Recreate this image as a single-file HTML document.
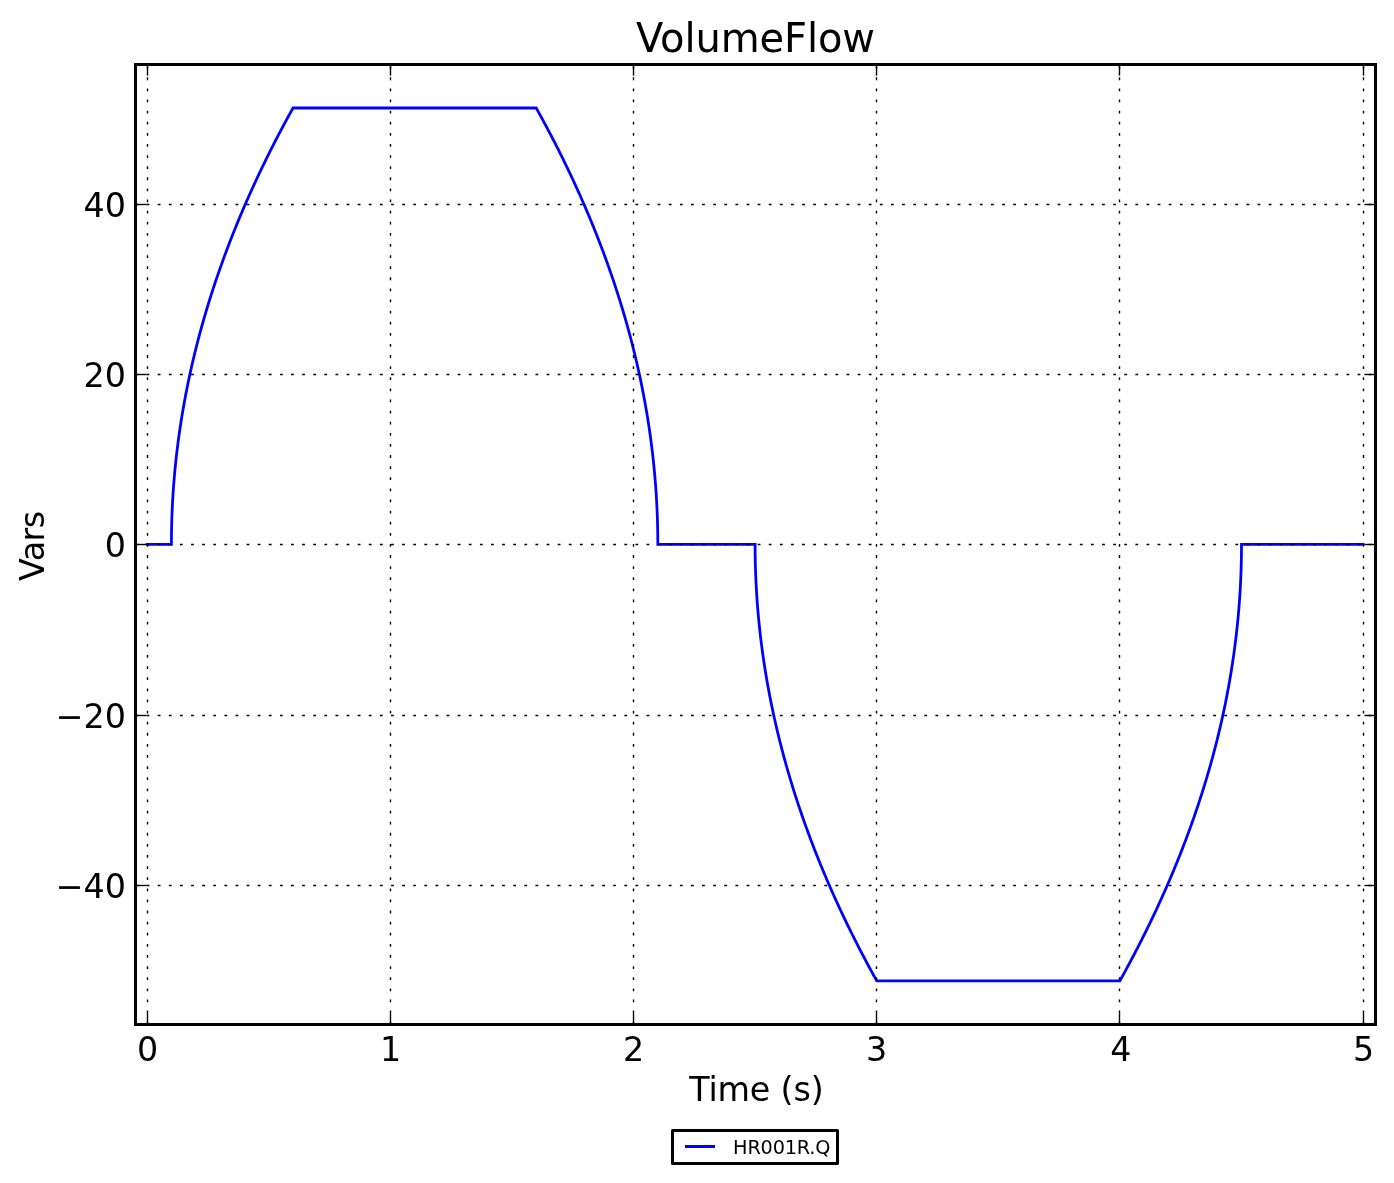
<!DOCTYPE html>
<html><head><meta charset="utf-8"><title>VolumeFlow</title>
<style>html,body{margin:0;padding:0;background:#fff}svg{display:block}</style></head>
<body>
<svg width="1394" height="1183" viewBox="0 0 1394 1183" font-family="'DejaVu Sans', 'Liberation Sans', sans-serif" fill="#000">
<rect x="0" y="0" width="1394" height="1183" fill="#fff"/>
<path d="M147.10,544.40 L171.42,544.40 L171.42,544.40 L171.43,541.49 L171.44,538.58 L171.47,535.67 L171.51,532.76 L171.56,529.85 L171.61,526.94 L171.68,524.03 L171.77,521.13 L171.86,518.22 L171.96,515.31 L172.07,512.40 L172.20,509.49 L172.33,506.58 L172.48,503.67 L172.64,500.76 L172.80,497.85 L172.98,494.94 L173.17,492.03 L173.37,489.12 L173.58,486.21 L173.80,483.30 L174.04,480.40 L174.28,477.49 L174.53,474.58 L174.80,471.67 L175.07,468.76 L175.36,465.85 L175.66,462.94 L175.97,460.03 L176.28,457.12 L176.61,454.21 L176.95,451.30 L177.31,448.39 L177.67,445.48 L178.04,442.57 L178.42,439.67 L178.82,436.76 L179.22,433.85 L179.64,430.94 L180.07,428.03 L180.50,425.12 L180.95,422.21 L181.41,419.30 L181.88,416.39 L182.36,413.48 L182.86,410.57 L183.36,407.66 L183.87,404.75 L184.40,401.84 L184.93,398.94 L185.48,396.03 L186.03,393.12 L186.60,390.21 L187.18,387.30 L187.77,384.39 L188.37,381.48 L188.98,378.57 L189.60,375.66 L190.23,372.75 L190.88,369.84 L191.53,366.93 L192.19,364.02 L192.87,361.11 L193.56,358.21 L194.25,355.30 L194.96,352.39 L195.68,349.48 L196.41,346.57 L197.15,343.66 L197.90,340.75 L198.66,337.84 L199.44,334.93 L200.22,332.02 L201.01,329.11 L201.82,326.20 L202.64,323.29 L203.46,320.38 L204.30,317.48 L205.15,314.57 L206.01,311.66 L206.88,308.75 L207.76,305.84 L208.65,302.93 L209.55,300.02 L210.47,297.11 L211.39,294.20 L212.33,291.29 L213.27,288.38 L214.23,285.47 L215.20,282.56 L216.17,279.65 L217.16,276.75 L218.16,273.84 L219.17,270.93 L220.20,268.02 L221.23,265.11 L222.27,262.20 L223.32,259.29 L224.39,256.38 L225.46,253.47 L226.55,250.56 L227.65,247.65 L228.76,244.74 L229.87,241.83 L231.00,238.92 L232.14,236.02 L233.30,233.11 L234.46,230.20 L235.63,227.29 L236.81,224.38 L238.01,221.47 L239.21,218.56 L240.43,215.65 L241.66,212.74 L242.89,209.83 L244.14,206.92 L245.40,204.01 L246.67,201.10 L247.95,198.19 L249.24,195.28 L250.55,192.38 L251.86,189.47 L253.18,186.56 L254.52,183.65 L255.86,180.74 L257.22,177.83 L258.59,174.92 L259.97,172.01 L261.36,169.10 L262.76,166.19 L264.17,163.28 L265.59,160.37 L267.02,157.46 L268.46,154.55 L269.92,151.65 L271.38,148.74 L272.86,145.83 L274.34,142.92 L275.84,140.01 L277.35,137.10 L278.87,134.19 L280.40,131.28 L281.94,128.37 L283.49,125.46 L285.05,122.55 L286.62,119.64 L288.20,116.73 L289.80,113.82 L291.40,110.92 L293.02,108.01 L536.22,108.01 L536.22,108.01 L537.84,110.92 L539.44,113.82 L541.04,116.73 L542.62,119.64 L544.19,122.55 L545.75,125.46 L547.30,128.37 L548.84,131.28 L550.37,134.19 L551.89,137.10 L553.40,140.01 L554.90,142.92 L556.38,145.83 L557.86,148.74 L559.32,151.65 L560.78,154.55 L562.22,157.46 L563.65,160.37 L565.07,163.28 L566.48,166.19 L567.88,169.10 L569.27,172.01 L570.65,174.92 L572.02,177.83 L573.38,180.74 L574.72,183.65 L576.06,186.56 L577.38,189.47 L578.69,192.38 L580.00,195.28 L581.29,198.19 L582.57,201.10 L583.84,204.01 L585.10,206.92 L586.35,209.83 L587.58,212.74 L588.81,215.65 L590.03,218.56 L591.23,221.47 L592.43,224.38 L593.61,227.29 L594.78,230.20 L595.94,233.11 L597.10,236.02 L598.24,238.92 L599.37,241.83 L600.48,244.74 L601.59,247.65 L602.69,250.56 L603.78,253.47 L604.85,256.38 L605.92,259.29 L606.97,262.20 L608.01,265.11 L609.04,268.02 L610.07,270.93 L611.08,273.84 L612.08,276.75 L613.07,279.65 L614.04,282.56 L615.01,285.47 L615.97,288.38 L616.91,291.29 L617.85,294.20 L618.77,297.11 L619.69,300.02 L620.59,302.93 L621.48,305.84 L622.36,308.75 L623.23,311.66 L624.09,314.57 L624.94,317.48 L625.78,320.38 L626.60,323.29 L627.42,326.20 L628.23,329.11 L629.02,332.02 L629.80,334.93 L630.58,337.84 L631.34,340.75 L632.09,343.66 L632.83,346.57 L633.56,349.48 L634.28,352.39 L634.99,355.30 L635.68,358.21 L636.37,361.11 L637.05,364.02 L637.71,366.93 L638.36,369.84 L639.01,372.75 L639.64,375.66 L640.26,378.57 L640.87,381.48 L641.47,384.39 L642.06,387.30 L642.64,390.21 L643.21,393.12 L643.76,396.03 L644.31,398.94 L644.84,401.84 L645.37,404.75 L645.88,407.66 L646.38,410.57 L646.88,413.48 L647.36,416.39 L647.83,419.30 L648.29,422.21 L648.74,425.12 L649.17,428.03 L649.60,430.94 L650.02,433.85 L650.42,436.76 L650.82,439.67 L651.20,442.57 L651.57,445.48 L651.93,448.39 L652.29,451.30 L652.63,454.21 L652.96,457.12 L653.27,460.03 L653.58,462.94 L653.88,465.85 L654.17,468.76 L654.44,471.67 L654.71,474.58 L654.96,477.49 L655.20,480.40 L655.44,483.30 L655.66,486.21 L655.87,489.12 L656.07,492.03 L656.26,494.94 L656.44,497.85 L656.60,500.76 L656.76,503.67 L656.91,506.58 L657.04,509.49 L657.17,512.40 L657.28,515.31 L657.38,518.22 L657.47,521.13 L657.56,524.03 L657.63,526.94 L657.68,529.85 L657.73,532.76 L657.77,535.67 L657.80,538.58 L657.81,541.49 L657.82,544.40 L755.10,544.40 L755.10,544.40 L755.11,547.31 L755.12,550.22 L755.15,553.13 L755.19,556.04 L755.24,558.95 L755.29,561.86 L755.36,564.77 L755.45,567.67 L755.54,570.58 L755.64,573.49 L755.75,576.40 L755.88,579.31 L756.01,582.22 L756.16,585.13 L756.32,588.04 L756.48,590.95 L756.66,593.86 L756.85,596.77 L757.05,599.68 L757.26,602.59 L757.48,605.50 L757.72,608.40 L757.96,611.31 L758.21,614.22 L758.48,617.13 L758.75,620.04 L759.04,622.95 L759.34,625.86 L759.65,628.77 L759.96,631.68 L760.29,634.59 L760.63,637.50 L760.99,640.41 L761.35,643.32 L761.72,646.23 L762.10,649.13 L762.50,652.04 L762.90,654.95 L763.32,657.86 L763.75,660.77 L764.18,663.68 L764.63,666.59 L765.09,669.50 L765.56,672.41 L766.04,675.32 L766.54,678.23 L767.04,681.14 L767.55,684.05 L768.08,686.96 L768.61,689.86 L769.16,692.77 L769.71,695.68 L770.28,698.59 L770.86,701.50 L771.45,704.41 L772.05,707.32 L772.66,710.23 L773.28,713.14 L773.91,716.05 L774.56,718.96 L775.21,721.87 L775.87,724.78 L776.55,727.69 L777.24,730.59 L777.93,733.50 L778.64,736.41 L779.36,739.32 L780.09,742.23 L780.83,745.14 L781.58,748.05 L782.34,750.96 L783.12,753.87 L783.90,756.78 L784.69,759.69 L785.50,762.60 L786.32,765.51 L787.14,768.42 L787.98,771.32 L788.83,774.23 L789.69,777.14 L790.56,780.05 L791.44,782.96 L792.33,785.87 L793.23,788.78 L794.15,791.69 L795.07,794.60 L796.01,797.51 L796.95,800.42 L797.91,803.33 L798.88,806.24 L799.85,809.15 L800.84,812.05 L801.84,814.96 L802.85,817.87 L803.88,820.78 L804.91,823.69 L805.95,826.60 L807.00,829.51 L808.07,832.42 L809.14,835.33 L810.23,838.24 L811.33,841.15 L812.44,844.06 L813.55,846.97 L814.68,849.88 L815.82,852.78 L816.98,855.69 L818.14,858.60 L819.31,861.51 L820.49,864.42 L821.69,867.33 L822.89,870.24 L824.11,873.15 L825.34,876.06 L826.57,878.97 L827.82,881.88 L829.08,884.79 L830.35,887.70 L831.63,890.61 L832.92,893.51 L834.23,896.42 L835.54,899.33 L836.86,902.24 L838.20,905.15 L839.54,908.06 L840.90,910.97 L842.27,913.88 L843.65,916.79 L845.04,919.70 L846.44,922.61 L847.85,925.52 L849.27,928.43 L850.70,931.34 L852.14,934.25 L853.60,937.15 L855.06,940.06 L856.54,942.97 L858.02,945.88 L859.52,948.79 L861.03,951.70 L862.55,954.61 L864.08,957.52 L865.62,960.43 L867.17,963.34 L868.73,966.25 L870.30,969.16 L871.88,972.07 L873.48,974.98 L875.08,977.88 L876.70,980.79 L1119.90,980.79 L1119.90,980.79 L1121.52,977.88 L1123.12,974.98 L1124.72,972.07 L1126.30,969.16 L1127.87,966.25 L1129.43,963.34 L1130.98,960.43 L1132.52,957.52 L1134.05,954.61 L1135.57,951.70 L1137.08,948.79 L1138.58,945.88 L1140.06,942.97 L1141.54,940.06 L1143.00,937.15 L1144.46,934.25 L1145.90,931.34 L1147.33,928.43 L1148.75,925.52 L1150.16,922.61 L1151.56,919.70 L1152.95,916.79 L1154.33,913.88 L1155.70,910.97 L1157.06,908.06 L1158.40,905.15 L1159.74,902.24 L1161.06,899.33 L1162.37,896.42 L1163.68,893.51 L1164.97,890.61 L1166.25,887.70 L1167.52,884.79 L1168.78,881.88 L1170.03,878.97 L1171.26,876.06 L1172.49,873.15 L1173.71,870.24 L1174.91,867.33 L1176.11,864.42 L1177.29,861.51 L1178.46,858.60 L1179.62,855.69 L1180.78,852.78 L1181.92,849.88 L1183.05,846.97 L1184.16,844.06 L1185.27,841.15 L1186.37,838.24 L1187.46,835.33 L1188.53,832.42 L1189.60,829.51 L1190.65,826.60 L1191.69,823.69 L1192.72,820.78 L1193.75,817.87 L1194.76,814.96 L1195.76,812.05 L1196.75,809.15 L1197.72,806.24 L1198.69,803.33 L1199.65,800.42 L1200.59,797.51 L1201.53,794.60 L1202.45,791.69 L1203.37,788.78 L1204.27,785.87 L1205.16,782.96 L1206.04,780.05 L1206.91,777.14 L1207.77,774.23 L1208.62,771.32 L1209.46,768.42 L1210.28,765.51 L1211.10,762.60 L1211.91,759.69 L1212.70,756.78 L1213.48,753.87 L1214.26,750.96 L1215.02,748.05 L1215.77,745.14 L1216.51,742.23 L1217.24,739.32 L1217.96,736.41 L1218.67,733.50 L1219.36,730.59 L1220.05,727.69 L1220.73,724.78 L1221.39,721.87 L1222.04,718.96 L1222.69,716.05 L1223.32,713.14 L1223.94,710.23 L1224.55,707.32 L1225.15,704.41 L1225.74,701.50 L1226.32,698.59 L1226.89,695.68 L1227.44,692.77 L1227.99,689.86 L1228.52,686.96 L1229.05,684.05 L1229.56,681.14 L1230.06,678.23 L1230.56,675.32 L1231.04,672.41 L1231.51,669.50 L1231.97,666.59 L1232.42,663.68 L1232.85,660.77 L1233.28,657.86 L1233.70,654.95 L1234.10,652.04 L1234.50,649.13 L1234.88,646.23 L1235.25,643.32 L1235.61,640.41 L1235.97,637.50 L1236.31,634.59 L1236.64,631.68 L1236.95,628.77 L1237.26,625.86 L1237.56,622.95 L1237.85,620.04 L1238.12,617.13 L1238.39,614.22 L1238.64,611.31 L1238.88,608.40 L1239.12,605.50 L1239.34,602.59 L1239.55,599.68 L1239.75,596.77 L1239.94,593.86 L1240.12,590.95 L1240.28,588.04 L1240.44,585.13 L1240.59,582.22 L1240.72,579.31 L1240.85,576.40 L1240.96,573.49 L1241.06,570.58 L1241.15,567.67 L1241.24,564.77 L1241.31,561.86 L1241.36,558.95 L1241.41,556.04 L1241.45,553.13 L1241.48,550.22 L1241.49,547.31 L1241.50,544.40 L1363.10,544.40" fill="none" stroke="#0000ff" stroke-width="2.78" stroke-linejoin="miter" stroke-linecap="square"/>
<line x1="147.50" y1="1024.5" x2="147.50" y2="64.5" stroke="#000" stroke-width="1.39" stroke-dasharray="2.78 8.33"/>
<line x1="390.50" y1="1024.5" x2="390.50" y2="64.5" stroke="#000" stroke-width="1.39" stroke-dasharray="2.78 8.33"/>
<line x1="633.50" y1="1024.5" x2="633.50" y2="64.5" stroke="#000" stroke-width="1.39" stroke-dasharray="2.78 8.33"/>
<line x1="876.50" y1="1024.5" x2="876.50" y2="64.5" stroke="#000" stroke-width="1.39" stroke-dasharray="2.78 8.33"/>
<line x1="1119.50" y1="1024.5" x2="1119.50" y2="64.5" stroke="#000" stroke-width="1.39" stroke-dasharray="2.78 8.33"/>
<line x1="1363.50" y1="1024.5" x2="1363.50" y2="64.5" stroke="#000" stroke-width="1.39" stroke-dasharray="2.78 8.33"/>
<line x1="135.5" y1="204.50" x2="1375.5" y2="204.50" stroke="#000" stroke-width="1.39" stroke-dasharray="2.78 8.33"/>
<line x1="135.5" y1="374.50" x2="1375.5" y2="374.50" stroke="#000" stroke-width="1.39" stroke-dasharray="2.78 8.33"/>
<line x1="135.5" y1="544.50" x2="1375.5" y2="544.50" stroke="#000" stroke-width="1.39" stroke-dasharray="2.78 8.33"/>
<line x1="135.5" y1="715.50" x2="1375.5" y2="715.50" stroke="#000" stroke-width="1.39" stroke-dasharray="2.78 8.33"/>
<line x1="135.5" y1="885.50" x2="1375.5" y2="885.50" stroke="#000" stroke-width="1.39" stroke-dasharray="2.78 8.33"/>
<line x1="147.50" y1="1024.5" x2="147.50" y2="1013.4" stroke="#000" stroke-width="1.39"/>
<line x1="147.50" y1="64.5" x2="147.50" y2="75.6" stroke="#000" stroke-width="1.39"/>
<line x1="390.50" y1="1024.5" x2="390.50" y2="1013.4" stroke="#000" stroke-width="1.39"/>
<line x1="390.50" y1="64.5" x2="390.50" y2="75.6" stroke="#000" stroke-width="1.39"/>
<line x1="633.50" y1="1024.5" x2="633.50" y2="1013.4" stroke="#000" stroke-width="1.39"/>
<line x1="633.50" y1="64.5" x2="633.50" y2="75.6" stroke="#000" stroke-width="1.39"/>
<line x1="876.50" y1="1024.5" x2="876.50" y2="1013.4" stroke="#000" stroke-width="1.39"/>
<line x1="876.50" y1="64.5" x2="876.50" y2="75.6" stroke="#000" stroke-width="1.39"/>
<line x1="1119.50" y1="1024.5" x2="1119.50" y2="1013.4" stroke="#000" stroke-width="1.39"/>
<line x1="1119.50" y1="64.5" x2="1119.50" y2="75.6" stroke="#000" stroke-width="1.39"/>
<line x1="1363.50" y1="1024.5" x2="1363.50" y2="1013.4" stroke="#000" stroke-width="1.39"/>
<line x1="1363.50" y1="64.5" x2="1363.50" y2="75.6" stroke="#000" stroke-width="1.39"/>
<line x1="135.5" y1="204.50" x2="146.6" y2="204.50" stroke="#000" stroke-width="1.39"/>
<line x1="1375.5" y1="204.50" x2="1364.4" y2="204.50" stroke="#000" stroke-width="1.39"/>
<line x1="135.5" y1="374.50" x2="146.6" y2="374.50" stroke="#000" stroke-width="1.39"/>
<line x1="1375.5" y1="374.50" x2="1364.4" y2="374.50" stroke="#000" stroke-width="1.39"/>
<line x1="135.5" y1="544.50" x2="146.6" y2="544.50" stroke="#000" stroke-width="1.39"/>
<line x1="1375.5" y1="544.50" x2="1364.4" y2="544.50" stroke="#000" stroke-width="1.39"/>
<line x1="135.5" y1="715.50" x2="146.6" y2="715.50" stroke="#000" stroke-width="1.39"/>
<line x1="1375.5" y1="715.50" x2="1364.4" y2="715.50" stroke="#000" stroke-width="1.39"/>
<line x1="135.5" y1="885.50" x2="146.6" y2="885.50" stroke="#000" stroke-width="1.39"/>
<line x1="1375.5" y1="885.50" x2="1364.4" y2="885.50" stroke="#000" stroke-width="1.39"/>
<rect x="135.5" y="64.5" width="1240.0" height="960.0" fill="none" stroke="#000" stroke-width="3"/>
<text x="147.50" y="1061" font-size="33.33" text-anchor="middle">0</text>
<text x="390.50" y="1061" font-size="33.33" text-anchor="middle">1</text>
<text x="633.50" y="1061" font-size="33.33" text-anchor="middle">2</text>
<text x="876.50" y="1061" font-size="33.33" text-anchor="middle">3</text>
<text x="1120.80" y="1061" font-size="33.33" text-anchor="middle">4</text>
<text x="1363.50" y="1061" font-size="33.33" text-anchor="middle">5</text>
<text x="126.0" y="217.40" font-size="33.33" text-anchor="end">40</text>
<text x="126.0" y="387.40" font-size="33.33" text-anchor="end">20</text>
<text x="126.0" y="557.40" font-size="33.33" text-anchor="end">0</text>
<text x="126.0" y="728.40" font-size="33.33" text-anchor="end">−20</text>
<text x="126.0" y="898.40" font-size="33.33" text-anchor="end">−40</text>
<text x="755.50" y="52.3" font-size="40.0" text-anchor="middle" textLength="239.1" lengthAdjust="spacing">VolumeFlow</text>
<text x="756.50" y="1101.1" font-size="33.33" text-anchor="middle" textLength="134.3" lengthAdjust="spacing">Time (s)</text>
<text transform="translate(44,545.90) rotate(-90)" font-size="33.33" text-anchor="middle" textLength="70.1" lengthAdjust="spacing">Vars</text>
<rect x="672.5" y="1130.5" width="165" height="33" fill="#fff" stroke="#000" stroke-width="3" stroke-linejoin="round"/>
<rect x="685" y="1145" width="30" height="3" fill="#0000ff"/>
<text x="733.1" y="1154.3" font-size="19.3" textLength="97.3" lengthAdjust="spacing">HR001R.Q</text>
</svg>
</body></html>
